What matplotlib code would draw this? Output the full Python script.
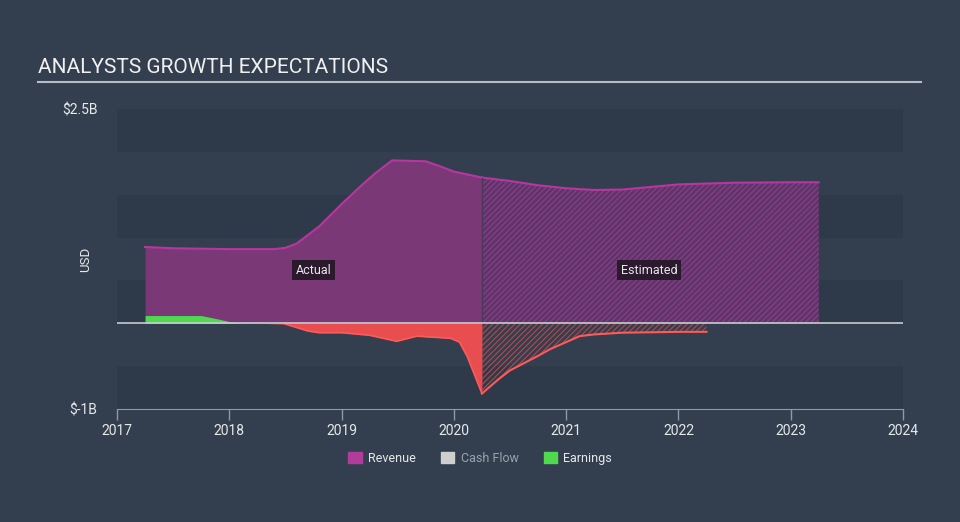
import matplotlib
matplotlib.use('Agg')
from matplotlib import pyplot as plt
from matplotlib.patches import Patch

plt.rcParams['font.family'] = ['Roboto', 'DejaVu Sans']
plt.rcParams['hatch.linewidth'] = 0.8

# revenue, actual and estimated (USD billions)
rev_x = [2017.25, 2017.5, 2017.75, 2018.0, 2018.25, 2018.4, 2018.5, 2018.6, 2018.8, 2019.0, 2019.17, 2019.3, 2019.45, 2019.75, 2019.88, 2020.0, 2020.25]
rev_y = [0.89, 0.875, 0.87, 0.865, 0.865, 0.865, 0.88, 0.93, 1.13, 1.39, 1.60, 1.75, 1.90, 1.89, 1.83, 1.77, 1.70]
est_rev_x = [2020.25, 2020.5, 2020.75, 2021.0, 2021.25, 2021.5, 2021.75, 2022.0, 2022.5, 2023.0, 2023.25]
est_rev_y = [1.70, 1.66, 1.61, 1.575, 1.555, 1.56, 1.59, 1.62, 1.64, 1.645, 1.645]

# earnings, actual and estimated
earn_x = [2017.25, 2017.5, 2017.75, 2017.9, 2018.0, 2018.1, 2018.25, 2018.5, 2018.6, 2018.7, 2018.8, 2019.0, 2019.25, 2019.49, 2019.67, 2019.97, 2020.05, 2020.12, 2020.25]
earn_y = [0.09, 0.09, 0.09, 0.05, 0.02, 0.005, 0.0, -0.01, -0.05, -0.09, -0.11, -0.11, -0.14, -0.21, -0.15, -0.175, -0.22, -0.39, -0.82]
est_earn_x = [2020.25, 2020.4, 2020.5, 2020.75, 2020.86, 2021.0, 2021.12, 2021.25, 2021.5, 2022.0, 2022.25]
est_earn_y = [-0.82, -0.65, -0.55, -0.38, -0.30, -0.22, -0.15, -0.13, -0.11, -0.10, -0.10]

years = [2017, 2018, 2019, 2020, 2021, 2022, 2023, 2024]
bands = [(-1.0, -0.5), (0.0, 0.5), (1.0, 1.5), (2.0, 2.5)]

bg = '#333f4f'
band_col = '#2e3a49'
rev_fill = '#7b3877'
rev_line = '#b6379f'
red = '#e84e4f'
red_line = '#ff5a5a'
green = '#4fd94f'
text_col = '#e6e8ea'

fig = plt.figure(figsize=(9.6, 5.22), dpi=100, facecolor=bg)
ax = fig.add_axes([0.1219, 0.2165, 0.8187, 0.5747])
ax.set_facecolor(bg)

for lo, hi in bands:
  ax.axhspan(lo, hi, color=band_col, lw=0, zorder=0)

# revenue
ax.fill_between(rev_x, 0, rev_y, color=rev_fill, lw=0, zorder=2)
ax.plot(rev_x, rev_y, color=rev_line, lw=1.5, zorder=3)
ax.fill_between(est_rev_x, 0, est_rev_y, facecolor='#5e3569', edgecolor='#8f3d8a', hatch='//////', lw=0, zorder=2)
ax.plot(est_rev_x, est_rev_y, color=rev_line, lw=1.5, zorder=3)
ax.plot([2020.25, 2020.25], [0, est_rev_y[0]], color='#4a3a5a', lw=1, zorder=3)

# earnings
pos = [max(v, 0) for v in earn_y]
neg = [min(v, 0) for v in earn_y]
ax.fill_between(earn_x, 0, pos, color=green, lw=0, zorder=4)
ax.fill_between(earn_x, 0, neg, color=red, lw=0, zorder=4)
ax.plot(earn_x[7:], earn_y[7:], color=red_line, lw=1.2, zorder=5)
ax.fill_between(est_earn_x, 0, est_earn_y, facecolor='none', edgecolor='#b5484c', hatch='//////', lw=0, zorder=4)
ax.plot(est_earn_x, est_earn_y, color=red_line, lw=1.5, zorder=5)

ax.axhline(0, color='#c8ccd0', lw=1.2, zorder=6)

ax.text(2018.75, 0.62, 'Actual', color=text_col, fontsize=9, ha='center', va='center', zorder=7,
        bbox=dict(boxstyle='square,pad=0.3', fc='#2b1a2d', ec='none'))
ax.text(2021.74, 0.62, 'Estimated', color=text_col, fontsize=9, ha='center', va='center', zorder=7,
        bbox=dict(boxstyle='square,pad=0.3', fc='#2b1a2d', ec='none'))

ax.set_xlim(2017, 2024)
ax.set_ylim(-1, 2.5)
ax.set_xticks(years)
ax.set_xticklabels([str(y) for y in years])
ax.set_yticks([-1, 2.5])
ax.set_yticklabels(['$-1B', '$2.5B'])
ax.tick_params(axis='y', length=0, pad=14, colors=text_col, labelsize=10)
ax.tick_params(axis='x', length=8, width=1, color='#8d9aa8', colors=text_col, labelsize=10, pad=3)
for s in ['top', 'right', 'left']:
  ax.spines[s].set_visible(False)
ax.spines['bottom'].set_color('#8d9aa8')
ax.set_ylabel('USD', color=text_col, fontsize=9.5)
ax.yaxis.set_label_coords(-0.032, 0.5)

# title and rule
fig.text(0.04, 0.87, 'ANALYSTS GROWTH EXPECTATIONS', color='#f0f0f0', fontsize=15, va='center', ha='left')
fig.add_artist(plt.Line2D([0.04, 0.959], [0.843, 0.843], color='#b8bcc2', lw=1.5, transform=fig.transFigure))

handles = [Patch(color='#b13c9c'), Patch(color='#cfcfcf'), Patch(color=green)]
leg = fig.legend(handles, ['Revenue', 'Cash Flow', 'Earnings'], loc='center', bbox_to_anchor=(0.5, 0.122),
                 ncol=3, frameon=False, fontsize=9, handlelength=1.1, handleheight=0.9, columnspacing=2.0,
                 handletextpad=0.5)
for t, c in zip(leg.get_texts(), [text_col, '#9aa3ad', text_col]):
  t.set_color(c)

fig.savefig('out.png', dpi=100, facecolor=bg)
